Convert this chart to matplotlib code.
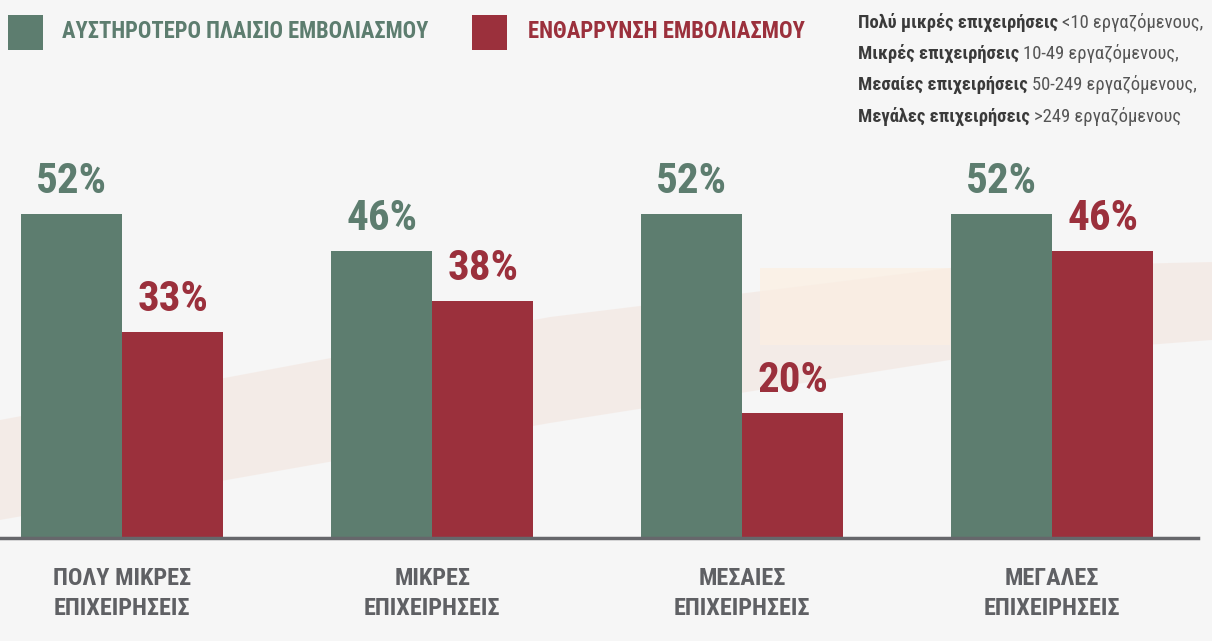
import matplotlib
matplotlib.use('Agg')
import matplotlib.pyplot as plt
from matplotlib import font_manager
from matplotlib.patches import Rectangle, Polygon
import numpy as np

# Data
categories = ['ΠΟΛΥ ΜΙΚΡΕΣ\nΕΠΙΧΕΙΡΗΣΕΙΣ', 'ΜΙΚΡΕΣ\nΕΠΙΧΕΙΡΗΣΕΙΣ',
              'ΜΕΣΑΙΕΣ\nΕΠΙΧΕΙΡΗΣΕΙΣ', 'ΜΕΓΑΛΕΣ\nΕΠΙΧΕΙΡΗΣΕΙΣ']
stricter = [52, 46, 52, 52]
encourage = [33, 38, 20, 46]
series_names = ['ΑΥΣΤΗΡΟΤΕΡΟ ΠΛΑΙΣΙΟ ΕΜΒΟΛΙΑΣΜΟΥ', 'ΕΝΘΑΡΡΥΝΣΗ ΕΜΒΟΛΙΑΣΜΟΥ']
note_bold = ['Πολύ μικρές επιχειρήσεις', 'Μικρές επιχειρήσεις',
             'Μεσαίες επιχειρήσεις', 'Μεγάλες επιχειρήσεις']
note_rest = ['<10 εργαζόμενους,', '10-49 εργαζόμενους,',
             '50-249 εργαζόμενους,', '>249 εργαζόμενους']

GREEN = '#5d7d6f'
RED = '#9b303c'
GRAY = '#5f6064'
BG = '#f6f6f6'

# narrowest font we can find
names = {f.name for f in font_manager.fontManager.ttflist}
COND = 'Roboto'
for cand in ['Roboto Condensed', 'Liberation Sans Narrow', 'DejaVu Sans Condensed',
             'Open Sans Condensed', 'Roboto']:
    if cand in names:
        COND = cand
        break

W, H = 1212, 641
fig = plt.figure(figsize=(W / 100, H / 100), dpi=100)
fig.patch.set_facecolor(BG)
r = fig.canvas.get_renderer()


def fx(px):
    return px / W


def fy(py):
    return 1 - py / H


def fit(t, width):
    # shrink/grow font so the text spans the given pixel width
    bb = t.get_window_extent(r)
    t.set_fontsize(t.get_fontsize() * width / bb.width)
    return t


# faint background band
band = [(0, 420), (550, 317), (950, 268), (1212, 262),
        (1212, 340), (950, 360), (550, 423), (0, 520)]
fig.add_artist(Polygon([(fx(a), fy(b)) for a, b in band], closed=True,
                       transform=fig.transFigure, facecolor='#f2e2da',
                       edgecolor='none', alpha=0.5, zorder=0))
fig.add_artist(Rectangle((fx(760), fy(345)), fx(190), (345 - 268) / H,
                         transform=fig.transFigure, facecolor='#fcefe2',
                         edgecolor='none', alpha=0.7, zorder=0))

# main axes
ax = fig.add_axes([0, fy(538), fx(1198), (538 - 100) / H])
ax.set_facecolor('none')
x = np.arange(len(categories))
w = 0.326
b1 = ax.bar(x - w / 2, stricter, w, color=GREEN, zorder=2)
b2 = ax.bar(x + w / 2, encourage, w, color=RED, zorder=2)
ax.set_ylim(0, 438 / 6.23)
ax.set_xlim(-0.394, 3.47)

for bars, col in [(b1, GREEN), (b2, RED)]:
    for bar in bars:
        h = bar.get_height()
        ax.annotate(f'{int(h)}%', (bar.get_x() + bar.get_width() / 2, h),
                    xytext=(0, 9), textcoords='offset points',
                    ha='center', va='bottom', color=col,
                    fontsize=31, fontweight='bold', family=COND)

for s in ['top', 'right', 'left']:
    ax.spines[s].set_visible(False)
ax.spines['bottom'].set_color('#66676b')
ax.spines['bottom'].set_linewidth(2.5)
ax.set_yticks([])
ax.set_xticks(x)
ax.set_xticklabels(categories, color=GRAY, fontsize=17.5, fontweight='bold',
                   linespacing=1.4, family=COND)
ax.tick_params(axis='x', length=0, pad=21)

# legend
for (x0, tx, tw), name, col in [((8, 62, 368), series_names[0], GREEN),
                                ((472, 528, 277), series_names[1], RED)]:
    fig.add_artist(Rectangle((fx(x0), fy(50)), fx(35), 35 / H,
                             transform=fig.transFigure, facecolor=col,
                             edgecolor='none'))
    t = fig.text(fx(tx), fy(32), name, color=col, fontsize=18,
                 fontweight='bold', va='center', ha='left', family=COND)
    fit(t, tw)

# size note, bold + regular on each line
note_size = 13.4
for i, (bt, rt) in enumerate(zip(note_bold, note_rest)):
    yy = fy(22 + i * 31.5)
    t = fig.text(fx(858), yy, bt, fontsize=note_size, fontweight='bold',
                 color='#3a3a3a', va='center', ha='left', family=COND)
    bb = t.get_window_extent(r)
    fig.text(fx(bb.x1 + 4), yy, rt, fontsize=note_size, color='#555555',
             va='center', ha='left', family=COND)

fig.savefig('out.png', dpi=100, facecolor=fig.get_facecolor())
